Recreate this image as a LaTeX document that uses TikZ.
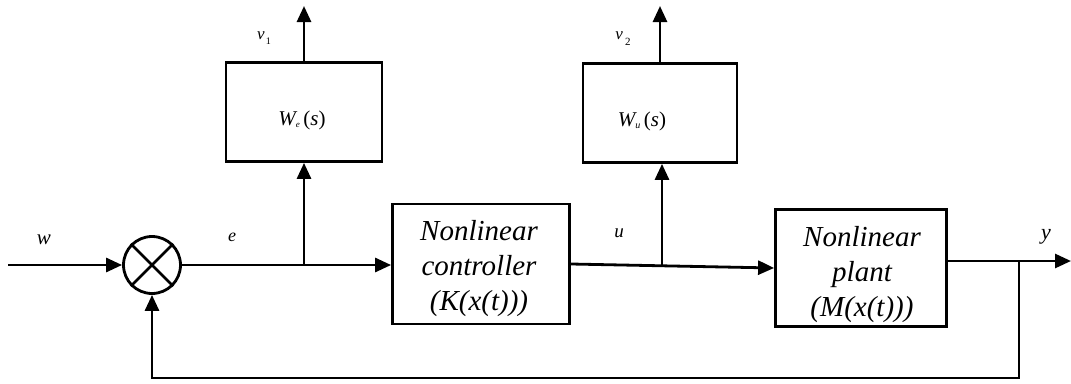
\documentclass[tikz,border=0pt]{standalone}
\usepackage{fontspec}
\setmainfont{Liberation Serif}
\usetikzlibrary{arrows.meta}
\begin{document}
\begin{tikzpicture}[x=1pt,y=-1pt,
  line width=2.8pt,
  blk/.style={draw,line width=2.8pt,inner sep=0pt},
  big/.style={align=center,inner sep=0pt,font={\fontsize{29}{35}\selectfont\itshape}},
  wlab/.style={inner sep=0pt,font={\fontsize{21}{24}\selectfont}},
  arr/.style={-{Triangle[length=16pt,width=14pt]}},
  lbl/.style={inner sep=0pt}]
\useasboundingbox (0,0) rectangle (1071,383);
% summing junction
\node[draw,circle,minimum size=57pt,inner sep=0pt,line width=2.8pt] (sum) at (152,265) {};
\draw (sum.north west) -- (sum.south east) (sum.north east) -- (sum.south west);
% blocks
\node[blk,minimum width=156pt,minimum height=99pt] (we) at (304,112) {};
\node[wlab] (wetext) at (302,120)
  {\itshape W\raisebox{-2pt}{\fontsize{9}{9}\selectfont e}\,\upshape(\itshape s\upshape)};
\node[blk,minimum width=154pt,minimum height=99pt] (wu) at (660,113) {};
\node[wlab] (wutext) at (642,121)
  {\itshape W\raisebox{-2pt}{\fontsize{10}{10}\selectfont u}\,\upshape(\itshape s\upshape)};
\node[blk,minimum width=177pt,minimum height=120pt] (ctrl) at (481,264) {};
\node[big] (ctrltext) at (479,269) {Nonlinear\\controller\\(K(x(t)))};
\node[blk,minimum width=171pt,minimum height=117pt] (plant) at (861,268) {};
\node[big] (planttext) at (862,275) {Nonlinear\\plant\\(M(x(t)))};
% coordinates
\coordinate (in) at (8,265);
\coordinate (b1) at (we.south |- sum.east);
\coordinate (b2) at (662,265);
\coordinate (out) at (1071,261);
\coordinate (b3) at (1019,261);
\coordinate (fb) at (1019,378);
\coordinate (v1end) at (we.north |- 0,6);
\coordinate (v2end) at (wu.north |- 0,6);
% connectors
\draw[arr] (in) -- (sum.west);
\draw[arr] (sum.east) -- (ctrl.west |- sum.east);
\draw[arr] (b1) -- (we.south);
\draw[arr] (we.north) -- (v1end);
\draw[arr] (ctrl.east) -- (plant.west);
\draw[arr] (b2) -- (b2 |- wu.south);
\draw[arr] (wu.north) -- (v2end);
\draw[arr] (plant.east |- out) -- (out);
\draw[arr] (b3) -- (fb) -- (fb -| sum.south) -- (sum.south);
% labels
\node[lbl] (lw) at (44,240) {\fontsize{21}{21}\selectfont\itshape w};
\node[lbl] (le) at (232,237) {\fontsize{18}{18}\selectfont\itshape e};
\node[lbl] (lu) at (619,233) {\fontsize{19}{19}\selectfont\itshape u};
\node[lbl] (ly) at (1046,237) {\fontsize{22}{22}\selectfont\itshape y};
\node[lbl] (lv1) at (264,38) {\fontsize{17}{17}\selectfont\itshape v\hspace{1pt}\raisebox{-5pt}{\upshape\fontsize{10}{10}\selectfont 1}};
\node[lbl] (lv2) at (623,39) {\fontsize{17}{17}\selectfont\itshape v\hspace{2pt}\raisebox{-6pt}{\upshape\fontsize{11}{11}\selectfont 2}};
\end{tikzpicture}
\end{document}
